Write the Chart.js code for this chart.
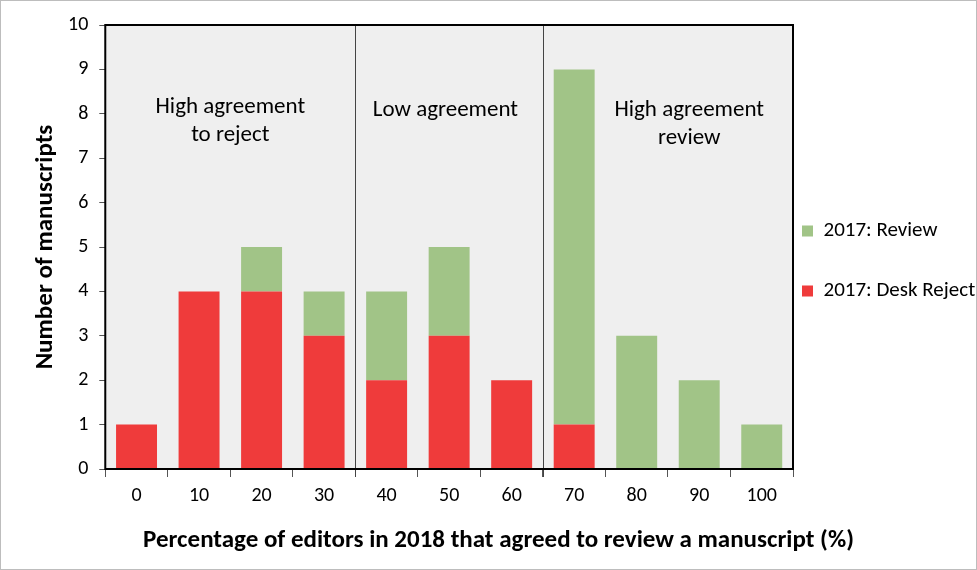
<!DOCTYPE html>
<html lang="en">
<head>
    <meta charset="UTF-8">
    <title>Editors agreement chart</title>
    <script src="https://cdn.jsdelivr.net/npm/chart.js"></script>
    <style>
        body { margin: 0; background: #fff; }
        #wrap { width: 975px; height: 568px; border: 1px solid #bdbdbd; }
    </style>
</head>
<body>
    <div id="wrap"><canvas id="myChart" width="975" height="568"></canvas></div>
    <script>
        // Data
        const categories = ['0', '10', '20', '30', '40', '50', '60', '70', '80', '90', '100'];
        const deskReject = [1, 4, 4, 3, 2, 3, 2, 1, 0, 0, 0];
        const review = [0, 0, 1, 1, 2, 2, 0, 8, 3, 2, 1];
        const yTicks = [0, 1, 2, 3, 4, 5, 6, 7, 8, 9, 10];
        const regionText = [['High agreement', 'to reject'], ['Low agreement'], ['High agreement', 'review']];
        const xTitle = 'Percentage of editors in 2018 that agreed to review a manuscript (%)';

        // where the region text sits (category index of centre, px below top)
        const regionCenter = [1.5, 4.94, 8.84];
        const regionRow = [82, 85, 85];
        const separators = [3.5, 6.5];

        const fontFam = 'Carlito, "Open Sans", "Noto Sans", sans-serif';

        function catPixel(scale, v) {
            const i = Math.floor(v);
            const a = scale.getPixelForValue(i);
            const b = scale.getPixelForValue(i + 1);
            return a + (b - a) * (v - i);
        }

        // background, border, separator lines, region text, x title, legend nudge
        const decor = {
            id: 'decor',
            afterLayout(chart) {
                const lg = chart.legend;
                lg.left -= 30;
                lg.right = chart.width;
                lg.top -= 31.5; lg.bottom -= 31.5;
            },
            beforeDatasetsDraw(chart) {
                const { ctx, chartArea: a } = chart;
                ctx.save();
                ctx.fillStyle = '#efefef';
                ctx.fillRect(a.left, a.top, a.right - a.left, a.bottom - a.top);
                ctx.restore();
            },
            afterDatasetsDraw(chart) {
                const { ctx, chartArea: a, scales } = chart;
                const x = scales.x;
                ctx.save();
                ctx.strokeStyle = '#444';
                ctx.lineWidth = 1;
                separators.forEach(s => {
                    const px = Math.round(catPixel(x, s)) + 0.5;
                    ctx.beginPath();
                    ctx.moveTo(px, a.top);
                    ctx.lineTo(px, a.bottom + 8);
                    ctx.stroke();
                });
                ctx.strokeStyle = '#000';
                ctx.lineWidth = 2;
                ctx.strokeRect(a.left, a.top, a.right - a.left, a.bottom - a.top);

                ctx.fillStyle = '#000';
                ctx.font = '23px ' + fontFam;
                ctx.textAlign = 'center';
                ctx.textBaseline = 'middle';
                regionText.forEach((lines, r) => {
                    const cx = catPixel(x, regionCenter[r]);
                    lines.forEach((line, i) => {
                        ctx.fillText(line, cx, a.top + regionRow[r] + i * 28);
                    });
                });

                // x title drawn here so it is not squeezed to the plot width
                ctx.font = 'bold 25px ' + fontFam;
                ctx.fillText(xTitle, chart.width / 2 + 10, x.bottom - 4 - 15);
                ctx.restore();
            }
        };

        const ctx = document.getElementById('myChart').getContext('2d');
        const myChart = new Chart(ctx, {
            type: 'bar',
            data: {
                labels: categories,
                datasets: [{
                    label: '2017: Desk Reject',
                    data: deskReject,
                    backgroundColor: '#ef3b3b'
                }, {
                    label: '2017: Review',
                    data: review,
                    backgroundColor: '#a1c487'
                }]
            },
            options: {
                responsive: false,
                animation: false,
                categoryPercentage: 1,
                barPercentage: 0.655,
                layout: { padding: { top: 24, right: 0, left: 30, bottom: 9 } },
                plugins: {
                    legend: {
                        position: 'right',
                        reverse: true,
                        maxWidth: 183,
                        labels: {
                            boxWidth: 11,
                            boxHeight: 11,
                            padding: 39,
                            color: '#000',
                            font: { family: fontFam, size: 21 }
                        }
                    },
                    tooltip: { enabled: false }
                },
                scales: {
                    x: {
                        stacked: true,
                        grid: { drawOnChartArea: false, tickLength: 8, color: '#555' },
                        border: { display: false },
                        ticks: { color: '#000', padding: 7, font: { family: fontFam, size: 20 } },
                        title: {
                            display: true,
                            text: xTitle,
                            color: 'rgba(0,0,0,0)',
                            padding: { top: 11, bottom: 4 },
                            font: { family: fontFam, size: 25, weight: 'bold' }
                        }
                    },
                    y: {
                        stacked: true,
                        min: 0,
                        max: 10,
                        afterBuildTicks: axis => { axis.ticks = yTicks.map(v => ({ value: v })); },
                        grid: { drawOnChartArea: false, tickLength: 6, color: '#555' },
                        border: { display: false },
                        ticks: { color: '#000', padding: 11, font: { family: fontFam, size: 20 } },
                        title: {
                            display: true,
                            text: 'Number of manuscripts',
                            color: '#000',
                            padding: { top: 0, bottom: -4 },
                            font: { family: fontFam, size: 25, weight: 'bold' }
                        }
                    }
                }
            },
            plugins: [decor]
        });
    </script>
</body>
</html>
